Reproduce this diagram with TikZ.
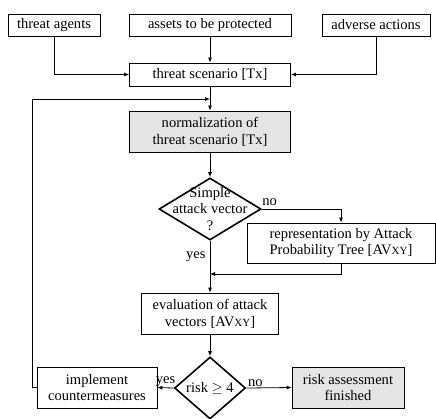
\documentclass[tikz,border=0pt]{standalone}
\usepackage{amsmath}
\usepackage{fontspec}
\setmainfont{Liberation Serif}
\usetikzlibrary{shapes.geometric,arrows.meta}
\newcommand{\smallcap}[1]{{\fontsize{11}{12}\selectfont #1}}

\begin{document}
\begin{tikzpicture}[x=1bp,y=-1bp] \tikzset{% This is the style settings for nodes
        box/.style={draw,line width=0.8bp,align=center,inner sep=0pt,font=\fontsize{14.6}{17}\selectfont},
        done/.style={box,fill=gray!20},
        decision/.style={diamond,draw,line width=1.6bp,inner sep=0pt},
        lbl/.style={align=center,inner sep=0pt,font=\fontsize{14.6}{17}\selectfont},
        arr/.style={-{Latex[length=5bp,width=4bp]},line width=0.8bp},
        c1/.style={-,line width=0.8bp},
        }
        \useasboundingbox (0,0) rectangle (436,418);
        % Nodes
        \node[box,minimum width=92bp,minimum height=22bp] (agents) at (54,25) {threat agents};
        \node[box,minimum width=162bp,minimum height=22bp] (assets) at (210,25) {assets to be protected};
        \node[box,minimum width=108bp,minimum height=22bp] (actions) at (376,25) {adverse actions};
        \node[box,minimum width=161bp,minimum height=23bp] (scen) at (210,74.5) {threat scenario [Tx]};
        \node[done,minimum width=161bp,minimum height=41bp] (norm) at (210,131.5) {normalization of\\threat scenario [Tx]};
        \node[decision,minimum width=102bp,minimum height=62bp] (q1) at (210,209) {};
        \node[lbl] (q1txt) at (q1) {Simple\\attack vector\\?};
        \node[box,minimum width=188bp,minimum height=40bp] (rep) at (341,243) {representation by Attack\\Probability Tree [AV\smallcap{XY}]};
        \node[box,minimum width=137bp,minimum height=41bp] (eval) at (210,313.5) {evaluation of attack\\vectors [AV\smallcap{XY}]};
        \node[decision,minimum width=71bp,minimum height=62bp] (q2) at (210,388) {};
        \node[lbl] (q2txt) at (q2) {risk $\geq$ 4};
        \node[box,minimum width=120bp,minimum height=41bp] (impl) at (97,387.5) {implement\\countermeasures};
        \node[done,minimum width=112bp,minimum height=41bp] (fin) at (348,387.5) {risk assessment\\finished};
        \coordinate (join) at (210,274);
        \coordinate (fb) at (32,99);
        \coordinate (back) at (210,99);
        %Edges
        \draw[arr] (agents) |- (scen); \draw[arr] (assets) -- (scen); \draw[arr] (actions) |- (scen);
        \draw[arr] (scen) -- (norm); \draw[arr] (norm) -- (q1);
        \draw[arr] (q1.east) -| node[lbl,pos=0.05,above=3bp] {no} (rep.north);
        \draw[arr] (rep.south) |- (join);
        \draw[arr] (q1.south) -- node[lbl,pos=0.3,left=4bp] {yes} (eval.north);
        \draw[arr] (eval) -- (q2);
        \draw[arr] (q2.west) -- node[lbl,above=1bp] {yes} (impl.east);
        \draw[arr] (q2.east) -- node[lbl,pos=0.2,above=1bp] {no} (fin.west);
        \draw[c1] (impl.west) -| (fb); \draw[arr] (fb) -- (back);
\end{tikzpicture}
\end{document}
